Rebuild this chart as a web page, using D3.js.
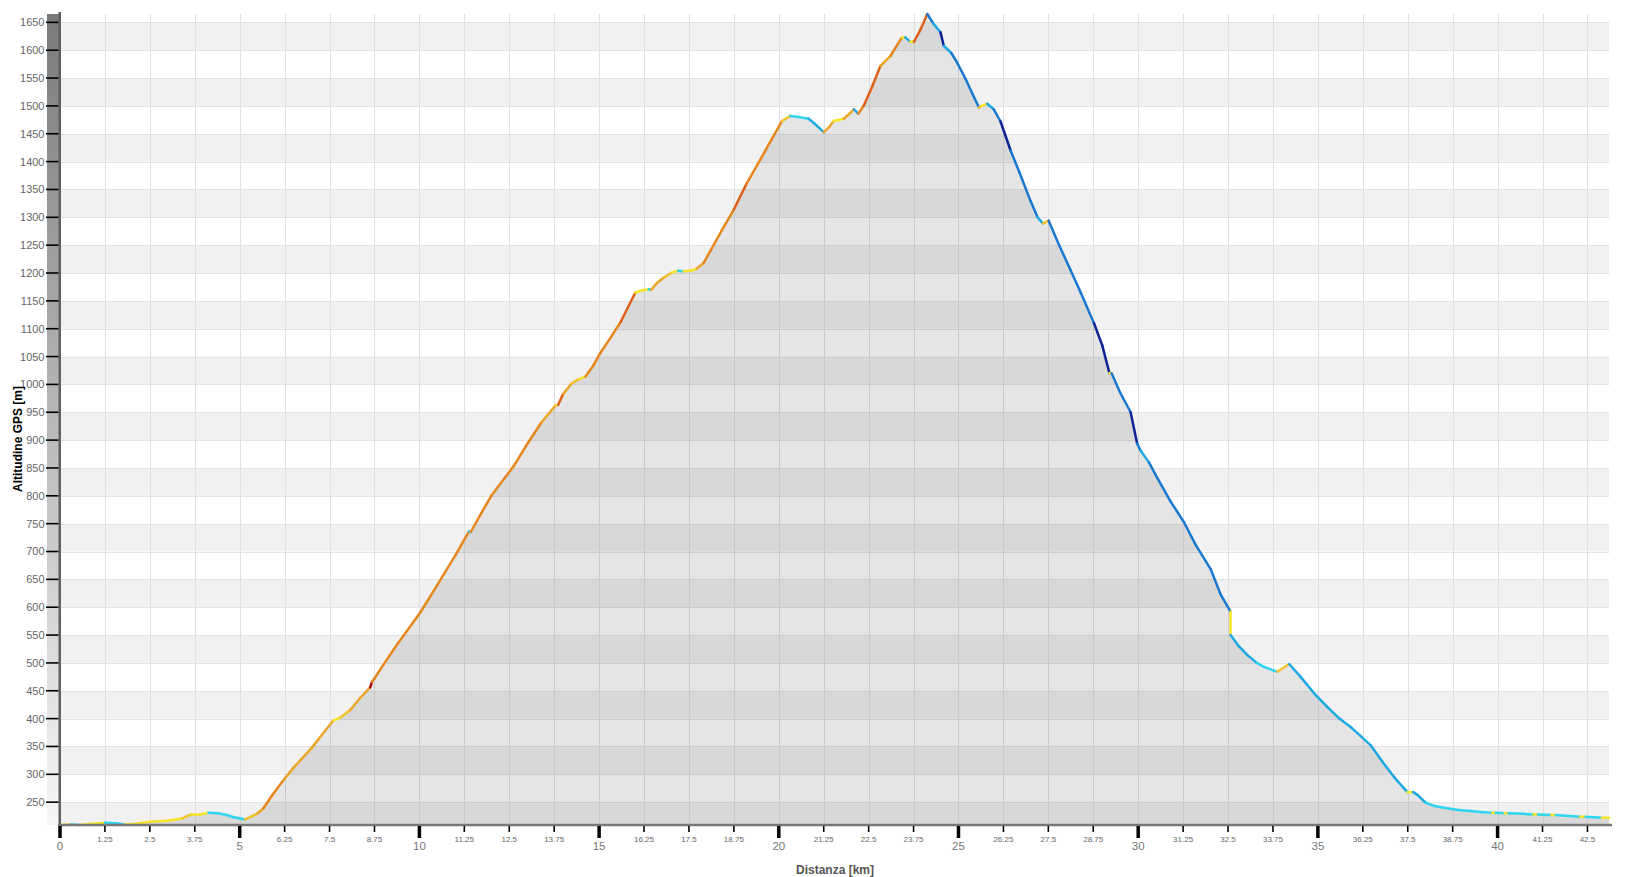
<!DOCTYPE html>
<html lang="it">
<head>
<meta charset="utf-8">
<title>Altitudine GPS</title>
<script src="https://d3js.org/d3.v7.min.js"></script>
<style>
	body { margin: 0; background: #fff; }
	svg { display: block; font-family: "Liberation Sans", Arial, sans-serif; }
	.ylab { font-size: 11px; fill: #666; }
	.xmaj { font-size: 11.5px; fill: #777; }
	.xmin { font-size: 8px; fill: #666; }
	.title { font-size: 12px; font-weight: bold; }
</style>
</head>
<body>
<script>
	// profilo: distanza [km] e altitudine GPS [m]
	var distanza = [
		0.00, 0.30, 0.55, 0.80, 1.10, 1.25, 1.55, 1.80, 2.05, 2.50, 2.85, 3.15, 3.40, 3.65, 3.90,
		4.13, 4.40, 4.64, 4.83, 5.00, 5.15, 5.35, 5.50, 5.66, 5.90, 6.22, 6.50, 6.70, 7.00, 7.30,
		7.61, 7.80, 8.07, 8.35, 8.63, 8.68, 8.75, 9.00, 9.40, 10.02, 10.50, 11.00, 11.38, 11.43, 11.75,
		12.00, 12.62, 13.00, 13.40, 13.80, 13.86, 14.00, 14.24, 14.45, 14.62, 14.85, 15.03, 15.31, 15.60, 15.80,
		16.01, 16.20, 16.38, 16.45, 16.61, 16.80, 17.03, 17.20, 17.35, 17.55, 17.72, 17.91, 18.10, 18.40, 18.75,
		19.10, 19.49, 19.80, 20.09, 20.32, 20.55, 20.83, 21.00, 21.25, 21.40, 21.53, 21.81, 22.00, 22.09, 22.21,
		22.36, 22.60, 22.83, 23.11, 23.30, 23.43, 23.52, 23.66, 23.76, 23.95, 24.13, 24.30, 24.50, 24.59, 24.80,
		24.96, 25.20, 25.40, 25.57, 25.65, 25.80, 25.98, 26.17, 26.45, 26.70, 27.00, 27.20, 27.35, 27.51, 27.80,
		28.12, 28.40, 28.77, 29.00, 29.20, 29.26, 29.50, 29.79, 29.97, 30.07, 30.30, 30.53, 30.90, 31.27, 31.60,
		32.02, 32.30, 32.57, 32.57, 32.80, 33.04, 33.30, 33.50, 33.87, 34.20, 34.52, 34.90, 35.26, 35.60, 35.91,
		36.20, 36.47, 36.80, 37.12, 37.49, 37.65, 37.77, 38.00, 38.25, 38.51, 38.90, 39.25, 39.60, 39.85, 39.95,
		40.20, 40.30, 40.70, 41.00, 41.12, 41.50, 41.62, 42.00, 42.30, 42.45, 42.90, 43.00, 43.10
	];
	var altitudine = [
		209, 210, 209, 211, 212, 213, 212, 210, 211, 215, 216, 218, 221, 228, 228,
		231, 230, 227, 223, 221, 219, 225, 230, 239, 262, 290, 312, 326, 347, 372,
		397, 402, 415, 437, 456, 466, 472, 497, 535, 590, 640, 693, 736, 735, 772,
		800, 853, 893, 932, 963, 963, 983, 1002, 1010, 1014, 1035, 1056, 1083, 1112, 1138,
		1165, 1169, 1171, 1170, 1182, 1192, 1201, 1204, 1203, 1204, 1208, 1218, 1240, 1275, 1314,
		1360, 1404, 1440, 1473, 1482, 1480, 1477, 1468, 1453, 1462, 1473, 1477, 1488, 1494, 1486,
		1500, 1535, 1572, 1590, 1610, 1623, 1623, 1615, 1615, 1638, 1665, 1648, 1632, 1608, 1595,
		1578, 1548, 1520, 1497, 1500, 1504, 1494, 1472, 1420, 1380, 1330, 1300, 1289, 1294, 1250,
		1205, 1165, 1110, 1070, 1020, 1020, 985, 950, 894, 881, 860, 832, 790, 753, 712,
		668, 622, 592, 550, 530, 514, 500, 493, 484, 498, 475, 445, 421, 400, 385,
		368, 352, 322, 295, 268, 268, 263, 249, 243, 240, 236, 234, 232, 231, 231,
		230, 230, 229, 228, 228, 227, 227, 225, 224, 224, 222, 222, 222
	];

	var yTicks = [250, 300, 350, 400, 450, 500, 550, 600, 650, 700, 750, 800, 850, 900, 950, 1000,
		1050, 1100, 1150, 1200, 1250, 1300, 1350, 1400, 1450, 1500, 1550, 1600, 1650];
	var xMajor = [0, 5, 10, 15, 20, 25, 30, 35, 40];
	var xMinor = [1.25, 2.5, 3.75, 6.25, 7.5, 8.75, 11.25, 12.5, 13.75, 16.25, 17.5, 18.75,
		21.25, 22.5, 23.75, 26.25, 27.5, 28.75, 31.25, 32.5, 33.75, 36.25, 37.5, 38.75, 41.25, 42.5];

	// pendenza [%] -> colore
	var gradeBreaks = [-17, -9.5, -4, -0.2, 2.8, 5, 8.5, 12, 17];
	var gradeColors = ["#0c2296", "#1a78cf", "#20a8e2", "#2fd4ef", "#f6e52b",
		"#f2c22c", "#eca42a", "#e6861f", "#df621b", "#a80c0c"];

	var W = 1638, H = 877;
	var pLeft = 61, pRight = 1609, pTop = 14, pBottom = 825;

	var svg = d3.select("body").append("svg")
		.attr("width", W)
		.attr("height", H);

	var x = d3.scaleLinear()
		.domain([0, d3.max(distanza)])
		.range([60, pRight]);

	var y = d3.scaleLinear()
		.domain(d3.extent(altitudine))
		.range([pBottom, pTop]);

	var yMin = y.domain()[0], yMax = y.domain()[1];

	var color = d3.scaleThreshold()
		.domain(gradeBreaks)
		.range(gradeColors);

	// bande orizzontali alternate
	var bands = d3.range(200, 1700, 50).filter(function(v) { return v + 50 > yMin && v < yMax; });
	svg.append("g").selectAll("rect")
		.data(bands)
		.enter().append("rect")
		.attr("x", pLeft)
		.attr("width", pRight - pLeft)
		.attr("y", function(v) { return y(Math.min(v + 50, yMax)); })
		.attr("height", function(v) { return y(Math.max(v, yMin)) - y(Math.min(v + 50, yMax)); })
		.style("fill", function(v) { return (v / 50) % 2 === 0 ? "#f1f1f1" : "#ffffff"; });

	svg.append("g").selectAll("line")
		.data(yTicks)
		.enter().append("line")
		.attr("x1", pLeft).attr("x2", pRight)
		.attr("y1", function(d) { return Math.round(y(d)) + 0.5; })
		.attr("y2", function(d) { return Math.round(y(d)) + 0.5; })
		.style("stroke", "#e3e3e3");

	// griglia verticale
	svg.append("g").selectAll("line")
		.data(xMajor.concat(xMinor).filter(function(d) { return d > 0; }))
		.enter().append("line")
		.attr("x1", function(d) { return Math.round(x(d)) + 0.5; })
		.attr("x2", function(d) { return Math.round(x(d)) + 0.5; })
		.attr("y1", pTop).attr("y2", pBottom)
		.style("stroke", "#e0e0e0");

	var pts = distanza.map(function(d, i) { return [d, altitudine[i]]; });

	var area = d3.area()
		.x(function(d) { return x(d[0]); })
		.y0(pBottom)
		.y1(function(d) { return y(d[1]); });

	svg.append("path")
		.datum(pts)
		.attr("d", area)
		.style("fill", "#000")
		.style("fill-opacity", 0.1);

	// linea colorata per pendenza
	var segs = d3.pairs(pts);
	svg.append("g").selectAll("line")
		.data(segs)
		.enter().append("line")
		.attr("x1", function(s) { return x(s[0][0]); })
		.attr("y1", function(s) { return y(s[0][1]); })
		.attr("x2", function(s) { return x(s[1][0]); })
		.attr("y2", function(s) { return y(s[1][1]); })
		.style("stroke", function(s) {
			var dx = s[1][0] - s[0][0];
			var g = dx === 0 ? 0 : (s[1][1] - s[0][1]) / (dx * 1000) * 100;
			return color(g);
		})
		.style("stroke-width", 2.5)
		.style("stroke-linecap", "round");

	// asse y
	var grad = svg.append("defs").append("linearGradient")
		.attr("id", "ybar")
		.attr("x1", 0).attr("y1", 0).attr("x2", 0).attr("y2", 1);
	grad.append("stop").attr("offset", "0%").attr("stop-color", "#7a7a7a");
	grad.append("stop").attr("offset", "100%").attr("stop-color", "#f6f6f6");

	svg.append("rect")
		.attr("x", 47).attr("y", pTop)
		.attr("width", 12).attr("height", pBottom - pTop)
		.style("fill", "url(#ybar)");
	svg.append("rect")
		.attr("x", 58.5).attr("y", pTop - 2)
		.attr("width", 2.5).attr("height", pBottom - pTop + 2)
		.style("fill", "#606060");

	svg.append("g").selectAll("line")
		.data(yTicks)
		.enter().append("line")
		.attr("x1", 46).attr("x2", 58.5)
		.attr("y1", function(d) { return y(d); })
		.attr("y2", function(d) { return y(d); })
		.style("stroke", "#000")
		.style("stroke-width", 1.6);

	svg.append("g").selectAll("text")
		.data(yTicks)
		.enter().append("text")
		.attr("class", "ylab")
		.attr("x", 44.5)
		.attr("y", function(d) { return y(d); })
		.attr("dy", "0.36em")
		.attr("text-anchor", "end")
		.text(function(d) { return d; });

	// asse x
	svg.append("line")
		.attr("x1", 58).attr("x2", pRight + 3)
		.attr("y1", pBottom).attr("y2", pBottom)
		.style("stroke", "#777")
		.style("stroke-width", 2.5);

	svg.append("g").selectAll("line")
		.data(xMajor)
		.enter().append("line")
		.attr("x1", function(d) { return x(d); })
		.attr("x2", function(d) { return x(d); })
		.attr("y1", pBottom + 1).attr("y2", pBottom + 13)
		.style("stroke", "#000")
		.style("stroke-width", 3.5);

	svg.append("g").selectAll("line")
		.data(xMinor)
		.enter().append("line")
		.attr("x1", function(d) { return x(d); })
		.attr("x2", function(d) { return x(d); })
		.attr("y1", pBottom + 1).attr("y2", pBottom + 7)
		.style("stroke", "#000")
		.style("stroke-width", 1.6);

	svg.append("g").selectAll("text")
		.data(xMajor)
		.enter().append("text")
		.attr("class", "xmaj")
		.attr("x", function(d) { return x(d); })
		.attr("y", 850)
		.attr("text-anchor", "middle")
		.text(function(d) { return d; });

	svg.append("g").selectAll("text")
		.data(xMinor)
		.enter().append("text")
		.attr("class", "xmin")
		.attr("x", function(d) { return x(d); })
		.attr("y", 841.5)
		.attr("text-anchor", "middle")
		.text(function(d) { return d; });

	svg.append("text")
		.attr("class", "title")
		.attr("transform", "translate(21.5,439) rotate(-90)")
		.attr("text-anchor", "middle")
		.style("fill", "#000")
		.text("Altitudine GPS [m]");

	svg.append("text")
		.attr("class", "title")
		.attr("x", 835)
		.attr("y", 873.5)
		.attr("text-anchor", "middle")
		.style("fill", "#555")
		.text("Distanza [km]");
</script>
</body>
</html>
